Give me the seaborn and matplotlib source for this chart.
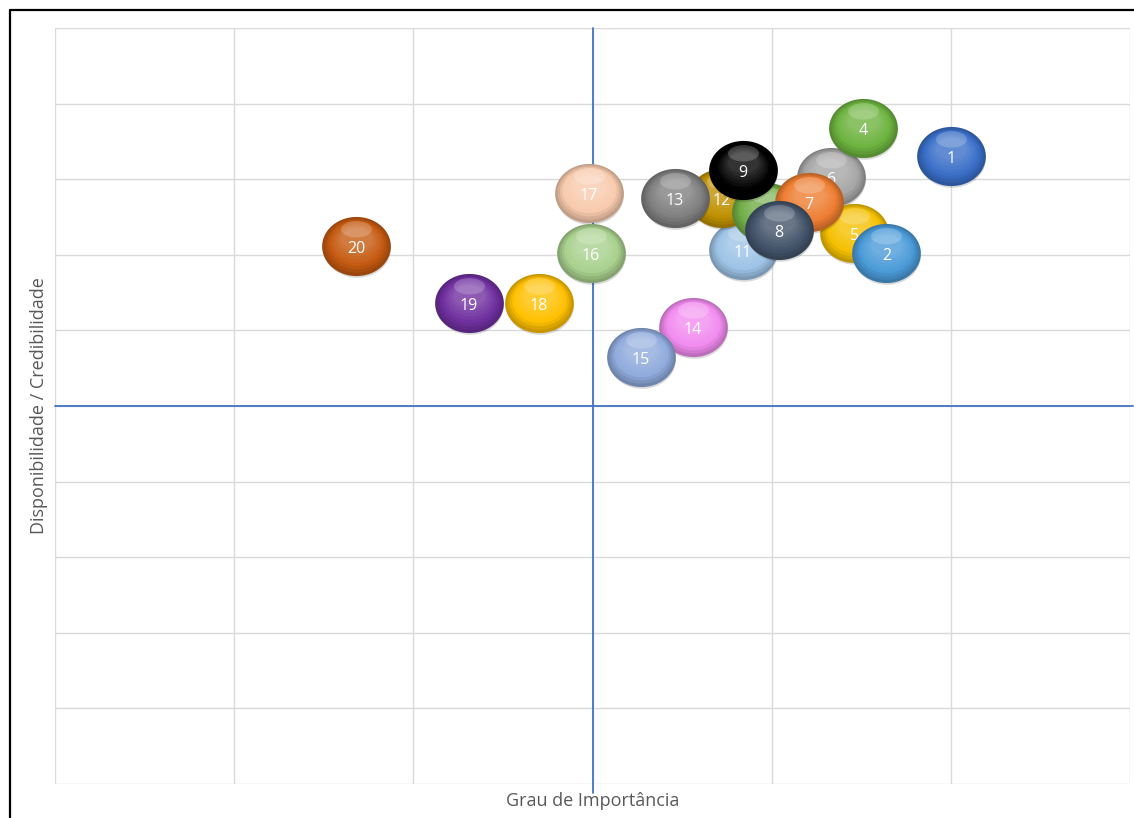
import numpy as np
import pandas as pd
import matplotlib
matplotlib.use("Agg")
import matplotlib.pyplot as plt
from matplotlib.path import Path
from matplotlib.lines import Line2D
import seaborn as sns

# ---- data ----
labels = ["20", "19", "18", "17", "16", "14", "15", "11", "12", "13",
          "10", "9", "6", "5", "7", "8", "2", "4", "1"]
importancia = [-1.32, -0.69, -0.30, -0.02, -0.01, 0.56, 0.27, 0.84, 0.72, 0.46,
               0.97, 0.84, 1.33, 1.46, 1.21, 1.04, 1.64, 1.51, 2.00]
disponibilidade = [2.12, 1.36, 1.36, 2.82, 2.02, 1.05, 0.65, 2.06, 2.75, 2.75,
                   2.57, 3.12, 3.03, 2.29, 2.70, 2.33, 2.02, 3.68, 3.31]
colors = ["#c55a11", "#7030a0", "#ffc000", "#f8cbad", "#a9d18e", "#f28cf0",
          "#8faadc", "#9dc3e6", "#bf9000", "#7f7f7f", "#70ad47", "#000000",
          "#a6a6a6", "#f5c000", "#ed7d31", "#44546a", "#4a9ad8", "#6db33f",
          "#3a6fc8"]
x_ticks = [-3, -2, -1, 0, 1, 2, 3]
y_ticks = [-5, -4, -3, -2, -1, 0, 1, 2, 3, 4, 5]

df = pd.DataFrame({"label": labels, "x": importancia, "y": disponibilidade,
                   "color": colors})

# ---- marker shapes ----
t = np.linspace(0, 2 * np.pi, 80)
RY = 0.86


def offset_ellipse(cx, cy, rx, ry):
    v = np.column_stack([cx + rx * np.cos(t), cy + ry * np.sin(t)])
    # lone MOVETO keeps marker normalisation identical to the full ellipse
    verts = np.vstack([[[1.0, 0.0]], v, [[0, 0]]])
    codes = [Path.MOVETO, Path.MOVETO] + [Path.LINETO] * (len(v) - 1) + [Path.CLOSEPOLY]
    return Path(verts, codes)


shadow_path = offset_ellipse(0.02, -0.07, 0.99, RY - 0.01)
N_LAYERS = 9
layer_paths = []
for k in range(N_LAYERS):
    f = k / (N_LAYERS - 1)
    layer_paths.append(offset_ellipse(0.0, 0.22 * f, 1.0 - 0.55 * f, RY - 0.55 * f))
hl_path = offset_ellipse(0.0, 0.50, 0.45, 0.24)

S = 2450

sns.set_style("white")
plt.rcParams["font.family"] = ["Open Sans", "DejaVu Sans"]

fig = plt.figure(figsize=(11.34, 8.18), dpi=100)
ax = fig.add_axes([55 / 1134, 1 - 784 / 818, 1075 / 1134, 756 / 818])

ax.set_xlim(x_ticks[0], x_ticks[-1])
ax.set_ylim(y_ticks[0], y_ticks[-1])
ax.set_xticks(x_ticks)
ax.set_yticks(y_ticks)
ax.set_xticklabels([])
ax.set_yticklabels([])
ax.tick_params(length=0)
ax.grid(True, color="#d9d9d9", lw=1.0)
for sp in ax.spines.values():
    sp.set_visible(False)

ax.axvline(0, color="#4472c4", lw=1.3, ymin=-0.012, ymax=1.0, clip_on=False, zorder=2)
ax.axhline(0, color="#4472c4", lw=1.3, xmin=0, xmax=1.003, clip_on=False, zorder=2)


def mix(c, target, f):
    a = np.array(matplotlib.colors.to_rgb(c))
    b = np.array(matplotlib.colors.to_rgb(target))
    return tuple(a + (b - a) * f)


for i, row in df.iterrows():
    z = 3 + i * 0.05
    one = df.iloc[[i]]
    c = row["color"]
    sns.scatterplot(data=one, x="x", y="y", marker=shadow_path, s=S,
                    color="#000000", alpha=0.15, linewidth=0, ax=ax,
                    legend=False, zorder=z)
    for k, p in enumerate(layer_paths):
        f = k / (N_LAYERS - 1)
        if f < 0.35:
            col = mix(c, "black", 0.22 * (1 - f / 0.35))
        else:
            col = mix(c, "white", 0.20 * (f - 0.35) / 0.65)
        sns.scatterplot(data=one, x="x", y="y", marker=p, s=S, color=col,
                        linewidth=0, ax=ax, legend=False,
                        zorder=z + 0.001 * (k + 1))
    sns.scatterplot(data=one, x="x", y="y", marker=hl_path, s=S,
                    color="white", alpha=0.20, linewidth=0, ax=ax,
                    legend=False, zorder=z + 0.02)
    ax.text(row["x"], row["y"] - 0.04, row["label"], color="white", fontsize=11.5,
            ha="center", va="center", zorder=z + 0.03)

ax.set_xlabel("Grau de Importância", fontsize=13, color="#595959")
ax.set_ylabel("Disponibilidade / Credibilidade", fontsize=13, color="#595959")
ax.xaxis.set_label_coords(0.5, -0.0105)
ax.yaxis.set_label_coords(-0.0065, 0.5)

# outer frame (top and left edges visible in the reference)
fig.add_artist(Line2D([10 / 1134, 10 / 1134], [0, 1 - 10 / 818], color="black",
                      lw=1.6, transform=fig.transFigure))
fig.add_artist(Line2D([10 / 1134, 1], [1 - 10 / 818, 1 - 10 / 818], color="black",
                      lw=1.6, transform=fig.transFigure))

fig.savefig("out.png", dpi=100)
